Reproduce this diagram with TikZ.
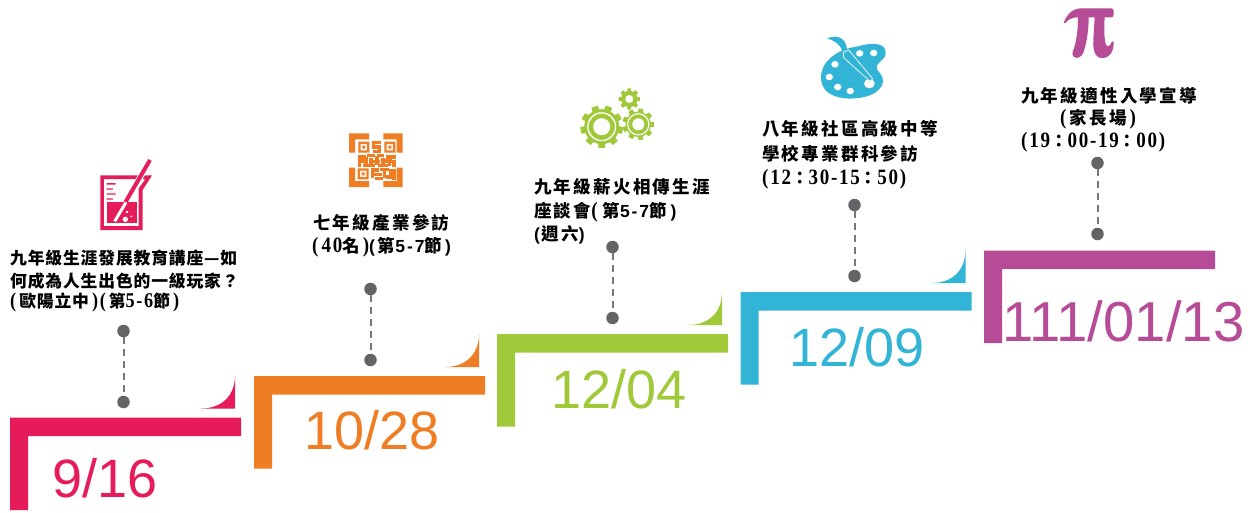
\documentclass[tikz,border=0pt]{standalone}
\usepackage{fontspec}
\setmainfont{Liberation Sans}
\newfontfamily\cjkw[LetterSpace=13]{Noto Sans CJK TC}
\newfontfamily\cjkn[LetterSpace=5]{Noto Sans CJK TC}
\newfontfamily\monw[Scale=1.25,FakeStretch=0.87,LetterSpace=8]{Liberation Serif}
\newfontfamily\sanw[LetterSpace=11]{Liberation Sans}
\definecolor{cred}{HTML}{E61C5A}
\definecolor{corange}{HTML}{EE7D23}
\definecolor{cgreen}{HTML}{A0C93A}
\definecolor{cblue}{HTML}{31B4D5}
\definecolor{cpurple}{HTML}{B64C98}
\definecolor{cgray}{HTML}{636466}
\definecolor{cdash}{HTML}{77787B}
\tikzset{
  x=1pt,y=-1pt,
  dot/.style={circle,fill=cgray,inner sep=0pt,minimum size=12.5pt},
  conn/.style={draw=cdash,line width=2pt,dash pattern=on 6.5pt off 5.5pt},
  txt/.style={anchor=base west,inner sep=0pt,text=black,font=\fontsize{17.5}{20}\selectfont\bfseries},
  txtn/.style={txt,font=\fontsize{16.8}{20}\selectfont\bfseries},
  datelabel/.style={anchor=base west,inner sep=0pt,font=\fontsize{54}{60}\selectfont},
}
\newcommand{\barbody}[3]{%
  \fill[#3] (#1,#2) -- ++(231,0) -- ++(0,18.5) -- ++(-213,0) -- ++(0,74) -- ++(-18,0) -- cycle;}
\newcommand{\barcorner}[3]{%
  \fill[#3] (#1+191,#2-9) .. controls (#1+212,#2-9) and (#1+225,#2-22) .. (#1+225,#2-42) -- (#1+225,#2-9) -- cycle;}
\newcommand{\gp}{\kern3pt\relax}
\begin{document}
\begin{tikzpicture}
\useasboundingbox (0,0) rectangle (1255,512);
\fill[white] (0,0) rectangle (1255,512);
% bars
\barbody{10}{417.5}{cred}\barcorner{10}{417.5}{cred}
\barbody{254}{376}{corange}\barcorner{254}{376}{corange}
\barbody{497}{334}{cgreen}\barcorner{497}{334}{cgreen}
\barbody{740.5}{292}{cblue}\barcorner{740.5}{292}{cblue}
\barbody{984}{250.5}{cpurple}
% dates
\node[datelabel,text=cred] (date1) at (52,497) {9/16};
\node[datelabel,text=corange] (date2) at (304,449) {10/28};
\node[datelabel,text=cgreen] (date3) at (551,408) {12/04};
\node[datelabel,text=cblue] (date4) at (789,366) {12/09};
\node[datelabel,text=cpurple,font=\fontsize{56.3}{60}\selectfont] (date5) at (1002,341) {111/01/13};
% connectors
\node[dot] (a1) at (123.5,331) {}; \node[dot] (b1) at (123.5,402) {};
\node[dot] (a2) at (370.5,289) {}; \node[dot] (b2) at (370.5,360) {};
\node[dot] (a3) at (612.5,247) {}; \node[dot] (b3) at (612.5,318) {};
\node[dot] (a4) at (854.5,205) {}; \node[dot] (b4) at (854.5,276) {};
\node[dot] (a5) at (1097.5,163) {}; \node[dot] (b5) at (1097.5,234) {};
\draw[conn] (a1) -- (b1);
\draw[conn] (a2) -- (b2);
\draw[conn] (a3) -- (b3);
\draw[conn] (a4) -- (b4);
\draw[conn] (a5) -- (b5);
% texts
\node[txtn] (t11) at (10,264.5) {\cjkn 九年級生涯發展教育講座—如};
\node[txtn] (t12) at (10,287) {\cjkn 何成為人生出色的一級玩家？};
\node[txtn] (t13) at (10,307.5) {\monw(\gp\cjkn 歐陽立中\gp\monw)(\gp\cjkn 第\monw 5-6\cjkn 節\gp\monw)};
\node[txt] (t21) at (313,229) {\cjkw 七年級產業參訪};
\node[txt] (t22) at (312,252) {\monw(\gp 40\cjkw 名\gp\monw)\sanw(\gp\cjkw 第\sanw 5-7\cjkw 節\gp\sanw)};
\node[txt] (t31) at (534,193) {\cjkw 九年級薪火相傳生涯};
\node[txt] (t32) at (534,217) {\cjkw 座談會\monw(\kern5pt\relax\cjkw 第\sanw 5-7\cjkw 節\kern4pt\relax\sanw)};
\node[txt] (t33) at (534,240) {\sanw(\kern1.5pt\relax\cjkw 週六\sanw)};
\node[txt] (t41) at (762,135) {\cjkw 八年級社區高級中等};
\node[txt] (t42) at (762,160) {\cjkw 學校專業群科參訪};
\node[txt] (t43) at (762,184) {\monw(12\cjkw ：\monw 30-15\cjkw ：\monw 50)};
\node[txt] (t51) at (1021,102) {\cjkw 九年級適性入學宣導};
\node[txt] (t52) at (1060,124) {\monw(\gp\cjkw 家長場\gp\monw)};
\node[txt] (t53) at (1021,147) {\monw(19\cjkw ：\monw 00-19\cjkw ：\monw 00)};
% beaker icon
\begin{scope}[shift={(0,150)},x=0.33333pt,y=-0.33333pt]
  \fill[cred,even odd rule] (301,76) -- (456,76) -- (428,120) -- (428,240) -- (301,240) -- cycle
     (312,87) -- (436,87) -- (416,116) -- (416,228) -- (312,228) -- cycle;
  \fill[cred] (320,157) rectangle (411,220);
  \fill[cred] (320,99) rectangle (347,104) (320,115) rectangle (339,119) (320,130) rectangle (347,134) (320,145) rectangle (339,149);
  \draw[white,line width=6pt] (436,56) -- (380,150);
  \draw[cred,line width=4pt] (450,30) -- (376,157);
  \draw[white,line width=3pt] (378,157) -- (344,214);
  \fill[white] (376,208) circle (8) (381,186) circle (4) (394,199) circle (3);
\end{scope}
% QR icon
\begin{scope}[shift={(250,120)},x=0.33333pt,y=-0.33333pt]
  \fill[corange,even odd rule]
    (297,40) -- (357,40) -- (357,58) -- (315,58) -- (315,98) -- (297,98) -- cycle
    (400,40) -- (458,40) -- (458,98) -- (440,98) -- (440,58) -- (400,58) -- cycle
    (297,143) -- (315,143) -- (315,183) -- (357,183) -- (357,201) -- (297,201) -- cycle
    (440,143) -- (458,143) -- (458,201) -- (400,201) -- (400,183) -- (440,183) -- cycle;
  \fill[corange,even odd rule]
    (325,65) rectangle (358,98) (332,72) rectangle (351,91)
    (403,65) rectangle (436,98) (410,72) rectangle (429,91)
    (323,145) rectangle (356,178) (330,152) rectangle (349,171);
  \fill[corange] (337,77) rectangle (346,86) (415,77) rectangle (424,86) (335,157) rectangle (344,166);
  \path[fill=corange,draw=corange,line width=1.1pt]
    (368,65) rectangle (392,71) (368,65) rectangle (374,84) (368,78) rectangle (392,84)
    (386,78) rectangle (392,97) (370,91) rectangle (392,97)
    (325,108) rectangle (345,114) (352,104) rectangle (372,110) (382,104) rectangle (400,110)
    (410,108) rectangle (435,114) (325,108) rectangle (331,140) (331,120) rectangle (352,126)
    (345,114) rectangle (351,135) (360,116) rectangle (366,140) (366,122) rectangle (388,128)
    (378,110) rectangle (384,134) (396,116) rectangle (402,140) (402,120) rectangle (425,126)
    (415,114) rectangle (421,136) (429,122) rectangle (435,140) (340,134) rectangle (372,140)
    (385,134) rectangle (412,140)
    (365,147) rectangle (385,153) (365,147) rectangle (371,172) (371,160) rectangle (395,166)
    (392,145) rectangle (415,151) (400,151) rectangle (406,172) (420,150) rectangle (426,166)
    (429,148) rectangle (435,178) (378,172) rectangle (398,178) (410,168) rectangle (429,174);
\end{scope}
% gears
\begin{scope}[cgreen]
  \foreach \cx/\cy/\rt/\rr/\n/\ro/\ri/\rh/\off in {601.7/126.7/21.5/17.5/9/14.5/13.2/8.5/10, 638.3/124.3/16/12.8/9/11.2/10/6/0}{
    \fill (\cx,\cy) circle (\rr pt);
    \foreach \k in {1,...,\n}{
      \pgfmathsetmacro{\a}{\off+\k*360/\n}
      \pgfmathsetmacro{\d}{360/\n/3.2}
      \pgfmathsetmacro{\e}{360/\n/4.6}
      \fill ({\cx+(\rr-1)*cos(\a-\d)},{\cy+(\rr-1)*sin(\a-\d)}) -- ({\cx+\rt*cos(\a-\e)},{\cy+\rt*sin(\a-\e)}) -- ({\cx+\rt*cos(\a+\e)},{\cy+\rt*sin(\a+\e)}) -- ({\cx+(\rr-1)*cos(\a+\d)},{\cy+(\rr-1)*sin(\a+\d)}) -- cycle;
    }
    \fill[white,even odd rule] (\cx,\cy) circle (\ro pt) (\cx,\cy) circle (\ri pt);
    \fill[white] (\cx,\cy) circle (\rh pt);
  }
  \fill (629.3,99) circle (8.2pt);
  \foreach \k in {1,...,8}{
    \pgfmathsetmacro{\a}{\k*45}
    \fill ({629.3+7.5*cos(\a-15)},{99+7.5*sin(\a-15)}) -- ({629.3+10.8*cos(\a-10)},{99+10.8*sin(\a-10)}) -- ({629.3+10.8*cos(\a+10)},{99+10.8*sin(\a+10)}) -- ({629.3+7.5*cos(\a+15)},{99+7.5*sin(\a+15)}) -- cycle;
  }
  \fill[white] (629.3,99) circle (4pt);
\end{scope}
% palette icon
\begin{scope}[shift={(750,20)},x=0.33333pt,y=-0.33333pt]
  \fill[cblue] (213,172) .. controls (213,125) and (260,88) .. (320,80)
     .. controls (360,68) and (407,65) .. (407,98)
     .. controls (407,125) and (372,125) .. (382,150)
     .. controls (395,165) and (405,175) .. (395,198)
     .. controls (375,232) and (320,238) .. (285,235)
     .. controls (240,230) and (213,210) .. (213,172) -- cycle;
  \fill[white] (329,100) ellipse (11 and 10) (371,99) ellipse (11 and 10) (255,133) ellipse (11 and 10)
     (238,171) ellipse (11 and 10) (263,201) ellipse (11 and 10) (301,213) ellipse (11 and 10)
     (358,191) ellipse (16 and 14);
  \fill[cblue] (232,55) .. controls (262,42) and (290,55) .. (291,90)
     -- (276,94) .. controls (272,72) and (252,62) .. (232,55) -- cycle;
  \filldraw[fill=cblue,draw=white,line width=0.7pt] (281,96) -- (296,90) -- (368,176) -- (360,184) -- (280,112) -- cycle;
\end{scope}
% pi icon
\begin{scope}[shift={(980,0)},x=0.33333pt,y=-0.33333pt]
  \fill[cpurple] (251,68) .. controls (262,40) and (280,25) .. (305,25)
     -- (394,25) .. controls (400,25) and (401,30) .. (401,34) -- (401,44) .. controls (401,50) and (398,52) .. (392,52)
     -- (374,52) .. controls (372,80) and (372,105) .. (376,128)
     .. controls (380,146) and (390,140) .. (396,124) -- (401,126)
     .. controls (401,152) and (392,174) .. (366,174)
     .. controls (345,174) and (338,150) .. (340,120) -- (344,52)
     -- (326,52) .. controls (326,90) and (320,130) .. (310,158)
     .. controls (304,172) and (292,176) .. (284,172)
     .. controls (274,168) and (277,155) .. (282,145)
     .. controls (290,120) and (294,85) .. (294,52)
     .. controls (276,52) and (265,58) .. (255,70) -- cycle;
\end{scope}
\end{tikzpicture}
\end{document}
